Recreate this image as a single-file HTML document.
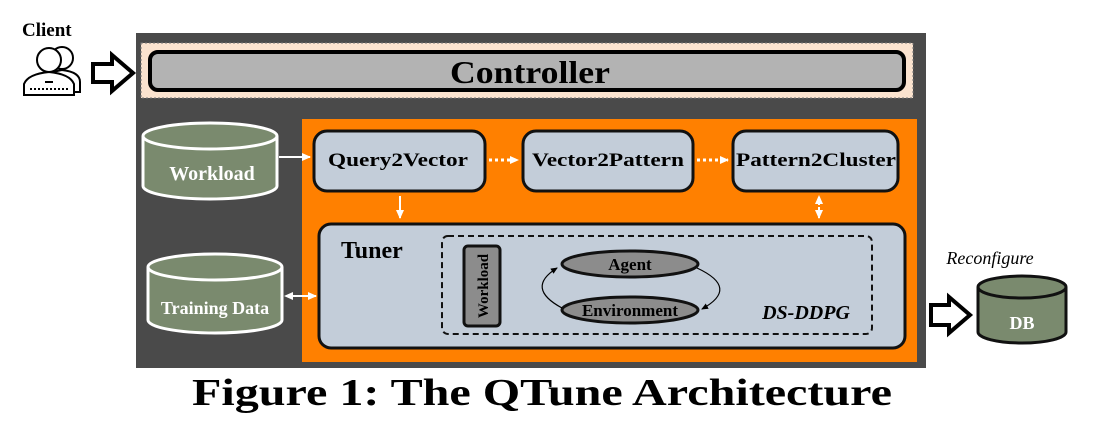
<!DOCTYPE html>
<html><head><style>
body{margin:0;background:#fff;width:1100px;height:422px;overflow:hidden}
</style></head><body>
<svg width="1100" height="422" viewBox="0 0 1100 422" xmlns="http://www.w3.org/2000/svg" font-family="Liberation Serif, serif">
<defs>
<marker id="wa" markerUnits="userSpaceOnUse" markerWidth="10" markerHeight="10" refX="8" refY="5" orient="auto"><path d="M0,1 L9,5 L0,9 z" fill="#fff"/></marker>
<marker id="wa2" markerUnits="userSpaceOnUse" markerWidth="10" markerHeight="10" refX="2" refY="5" orient="auto"><path d="M9,1 L0,5 L9,9 z" fill="#fff"/></marker>
<marker id="ba" markerUnits="userSpaceOnUse" markerWidth="8" markerHeight="8" refX="6" refY="4" orient="auto"><path d="M0,1 L7,4 L0,7 z" fill="#000"/></marker>
</defs>
<text x="22" y="36" font-size="19" font-weight="bold">Client</text>
<g fill="#fff" stroke="#000" stroke-width="2">
<circle cx="62" cy="58" r="11"/><path d="M44,92 L44,82 Q48,72 62,70 Q80,72 80,82 L80,92 z"/>
<circle cx="49" cy="60" r="12"/><path d="M24,95 L24,84 Q28,74 49,72 Q70,74 74,84 L74,95 z"/>
</g>
<line x1="30" y1="89" x2="70" y2="89" stroke="#000" stroke-width="2" stroke-dasharray="2,2"/>
<line x1="45" y1="82" x2="53" y2="82" stroke="#000" stroke-width="2"/>
<path d="M93,64 L112,64 L112,55 L133,73 L112,91 L112,82 L93,82 z" fill="#fff" stroke="#000" stroke-width="4"/>
<rect x="136" y="33" width="790" height="335" fill="#4a4a4a"/>
<rect x="141" y="43" width="772" height="55" fill="#fbe3cf" stroke="#777" stroke-dasharray="2,2"/>
<rect x="150" y="52" width="754" height="38" rx="8" fill="#b3b3b3" stroke="#000" stroke-width="4"/>
<text x="530" y="83" font-size="32" font-weight="bold" text-anchor="middle" textLength="160" lengthAdjust="spacingAndGlyphs">Controller</text>
<rect x="302" y="119" width="615" height="243" fill="#ff8000"/>
<g stroke="#fff" stroke-width="3">
<path d="M143,136 L143,186 A67,13 0 0 0 277,186 L277,136" fill="#7a8a6e"/>
<ellipse cx="210" cy="136" rx="67" ry="13" fill="#7a8a6e"/>
</g>
<text x="212" y="180" font-size="20" font-weight="bold" fill="#fff" text-anchor="middle">Workload</text>
<g stroke="#fff" stroke-width="3">
<path d="M148,267 L148,320 A67,13 0 0 0 282,320 L282,267" fill="#7a8a6e"/>
<ellipse cx="215" cy="267" rx="67" ry="13" fill="#7a8a6e"/>
</g>
<text x="215" y="314" font-size="18" font-weight="bold" fill="#fff" text-anchor="middle">Training Data</text>
<g fill="#c3cdd9" stroke="#111" stroke-width="3">
<rect x="314" y="131" width="171" height="60" rx="13"/>
<rect x="523" y="131" width="170" height="60" rx="13"/>
<rect x="733" y="131" width="165" height="60" rx="13"/>
<rect x="319" y="224" width="586" height="124" rx="12"/>
</g>
<g font-size="19" font-weight="bold" text-anchor="middle">
<text x="398" y="166" textLength="140" lengthAdjust="spacingAndGlyphs">Query2Vector</text>
<text x="608" y="166" textLength="152" lengthAdjust="spacingAndGlyphs">Vector2Pattern</text>
<text x="816" y="166" textLength="160" lengthAdjust="spacingAndGlyphs">Pattern2Cluster</text>
</g>
<line x1="279" y1="157" x2="310" y2="157" stroke="#fff" stroke-width="2" marker-end="url(#wa)"/>
<line x1="489" y1="160" x2="518" y2="160" stroke="#fff" stroke-width="3" stroke-dasharray="3,3" marker-end="url(#wa)"/>
<line x1="697" y1="160" x2="728" y2="160" stroke="#fff" stroke-width="3" stroke-dasharray="3,3" marker-end="url(#wa)"/>
<line x1="400" y1="196" x2="400" y2="218" stroke="#fff" stroke-width="2" marker-end="url(#wa)"/>
<line x1="819" y1="197" x2="819" y2="218" stroke="#fff" stroke-width="2" stroke-dasharray="3,2" marker-end="url(#wa)" marker-start="url(#wa2)"/>
<line x1="286" y1="296" x2="316" y2="296" stroke="#fff" stroke-width="2" marker-end="url(#wa)" marker-start="url(#wa2)"/>
<text x="341" y="258" font-size="24" font-weight="bold">Tuner</text>
<rect x="442" y="236" width="430" height="98" rx="6" fill="none" stroke="#111" stroke-width="2" stroke-dasharray="6,4"/>
<rect x="464" y="246" width="36" height="80" rx="4" fill="#8c8c8c" stroke="#111" stroke-width="3"/>
<text transform="translate(488,286) rotate(-90)" font-size="15" font-weight="bold" text-anchor="middle">Workload</text>
<ellipse cx="630" cy="264" rx="68" ry="13" fill="#8c8c8c" stroke="#111" stroke-width="3"/>
<ellipse cx="630" cy="310" rx="68" ry="13" fill="#8c8c8c" stroke="#111" stroke-width="3"/>
<text x="630" y="270" font-size="17" font-weight="bold" text-anchor="middle">Agent</text>
<text x="630" y="316" font-size="17" font-weight="bold" text-anchor="middle">Environment</text>
<path d="M697,268 Q740,288 702,309" fill="none" stroke="#000" stroke-width="1.2" marker-end="url(#ba)"/>
<path d="M562,308 Q525,288 557,268" fill="none" stroke="#000" stroke-width="1.2" marker-end="url(#ba)"/>
<text x="806" y="319" font-size="20" font-weight="bold" font-style="italic" text-anchor="middle">DS-DDPG</text>
<text x="990" y="264" font-size="18" font-style="italic" text-anchor="middle">Reconfigure</text>
<path d="M931,305 L949,305 L949,297 L970,315 L949,333 L949,325 L931,325 z" fill="#fff" stroke="#000" stroke-width="4"/>
<g stroke="#111" stroke-width="3">
<path d="M978,287 L978,332 A44,11 0 0 0 1066,332 L1066,287" fill="#7a8a6e"/>
<ellipse cx="1022" cy="287" rx="44" ry="11" fill="#7a8a6e"/>
</g>
<text x="1022" y="329" font-size="18" font-weight="bold" fill="#fff" text-anchor="middle">DB</text>
<text x="542" y="405" font-size="38" font-weight="bold" text-anchor="middle" textLength="700" lengthAdjust="spacingAndGlyphs">Figure 1: The QTune Architecture</text>
</svg>
</body></html>
